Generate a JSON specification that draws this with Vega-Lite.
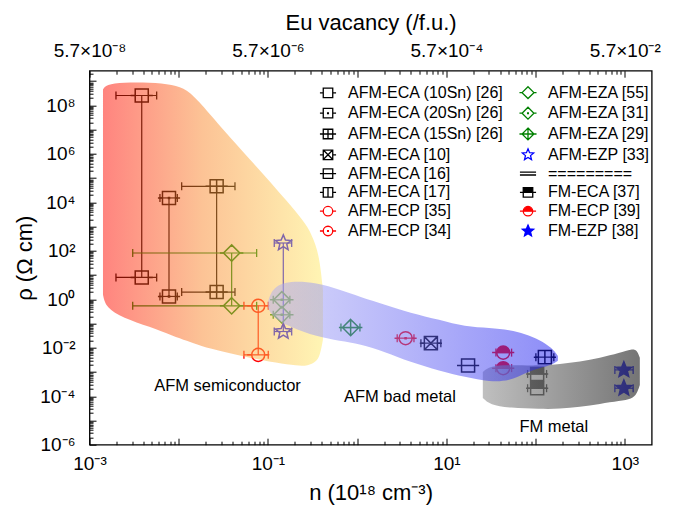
{
  "$schema": "https://vega.github.io/schema/vega-lite/v6.json",
  "width": 562.2,
  "height": 374,
  "autosize": {"type": "none"},
  "padding": {"left": 89.5, "top": 70.7, "right": 38.3, "bottom": 67.3},
  "background": "white",
  "config": {
    "font": "Liberation Sans",
    "view": {"stroke": "black", "strokeWidth": 1.3},
    "axis": {"grid": false, "domain": false, "tickColor": "black", "tickWidth": 1, "labelColor": "black", "titleColor": "black", "labelFont": "Liberation Sans", "titleFont": "Liberation Sans", "titleFontWeight": "normal", "labelFlush": false, "labelOverlap": false, "labelBound": false, "zindex": 1}
  },
  "datasets": {
    "points": [
      {"series": "AFM-ECA (10Sn) [26]", "n": 0.00385, "rho": 2.56e8, "lo": 0.00198, "hi": 0.00566},
      {"series": "AFM-ECA (10Sn) [26]", "n": 0.00385, "rho": 7.96, "lo": 0.00198, "hi": 0.00566},
      {"series": "AFM-ECA (20Sn) [26]", "n": 0.00778, "rho": 1.52e4, "lo": 0.00616, "hi": 0.00964},
      {"series": "AFM-ECA (20Sn) [26]", "n": 0.00778, "rho": 1.31, "lo": 0.00616, "hi": 0.00964},
      {"series": "AFM-ECA (15Sn) [26]", "n": 0.0266, "rho": 4.58e4, "lo": 0.01079, "hi": 0.0427},
      {"series": "AFM-ECA (15Sn) [26]", "n": 0.0266, "rho": 1.99, "lo": 0.01079, "hi": 0.0427},
      {"series": "AFM-EZA [55]", "n": 0.0392, "rho": 81.1, "lo": 0.00305, "hi": 0.0747},
      {"series": "AFM-EZA [55]", "n": 0.0392, "rho": 0.538, "lo": 0.00305, "hi": 0.0747},
      {"series": "AFM-ECP [35]", "n": 0.0778, "rho": 0.538, "lo": 0.0538, "hi": 0.1008},
      {"series": "AFM-ECP [35]", "n": 0.0778, "rho": 0.00509, "lo": 0.0538, "hi": 0.1008},
      {"series": "AFM-EZP [33]", "n": 0.1486, "rho": 210, "lo": 0.1177, "hi": 0.1845},
      {"series": "AFM-EZP [33]", "n": 0.1486, "rho": 0.0467, "lo": 0.1177, "hi": 0.1845},
      {"series": "AFM-EZA [31]", "n": 0.143, "rho": 0.953, "lo": 0.1146, "hi": 0.176},
      {"series": "AFM-EZA [31]", "n": 0.143, "rho": 0.229, "lo": 0.1146, "hi": 0.176},
      {"series": "AFM-EZA [29]", "n": 0.845, "rho": 0.068, "lo": 0.658, "hi": 1.074},
      {"series": "AFM-ECP [34]", "n": 3.49, "rho": 0.0249, "lo": 2.81, "hi": 4.33},
      {"series": "AFM-ECA [10]", "n": 6.7, "rho": 0.0155, "lo": 5.18, "hi": 8.67},
      {"series": "AFM-ECA [16]", "n": 17.5, "rho": 0.00184, "lo": null, "hi": null},
      {"series": "FM-ECP [39]", "n": 43.3, "rho": 0.0063, "lo": 35.9, "hi": 53.8},
      {"series": "FM-ECP [39]", "n": 43.3, "rho": 0.00144, "lo": 35.9, "hi": 53.8},
      {"series": "AFM-ECA [17]", "n": 127, "rho": 0.0041, "lo": 100.7, "hi": 160},
      {"series": "FM-ECA [37]", "n": 104, "rho": 0.00083, "lo": 81.3, "hi": 132.7},
      {"series": "FM-ECA [37]", "n": 104, "rho": 0.000214, "lo": 81.3, "hi": 132.7},
      {"series": "FM-EZP [38]", "n": 975, "rho": 0.00122, "lo": 773, "hi": 1239},
      {"series": "FM-EZP [38]", "n": 975, "rho": 0.000214, "lo": 773, "hi": 1239}
    ],
    "warm": [
      {"n": 0.001416, "top": 4.54e8, "bottom": 1.53},
      {"n": 0.001531, "top": 7.31e8, "bottom": 0.446},
      {"n": 0.002373, "top": 8.83e8, "bottom": 0.172},
      {"n": 0.004762, "top": 8.83e8, "bottom": 0.0731},
      {"n": 0.008622, "top": 7.31e8, "bottom": 0.031},
      {"n": 0.01237, "top": 4.54e8, "bottom": 0.0193},
      {"n": 0.0173, "top": 1.32e8, "bottom": 0.012},
      {"n": 0.03131, "top": 1.01e7, "bottom": 0.00678},
      {"n": 0.06285, "top": 5.81e5, "bottom": 0.00383},
      {"n": 0.1261, "top": 3.35e4, "bottom": 0.00238},
      {"n": 0.2113, "top": 3750, "bottom": 0.00179},
      {"n": 0.2806, "top": 991, "bottom": 0.00179},
      {"n": 0.3449, "top": 179, "bottom": 0.00261},
      {"n": 0.3825, "top": 35.5, "bottom": 0.00462},
      {"n": 0.4132, "top": 2.47, "bottom": 0.0212}
    ],
    "band": [
      {"n": 0.1, "top": 0.789, "bottom": 0.446},
      {"n": 0.1138, "top": 3.29, "bottom": 0.172},
      {"n": 0.1764, "top": 5.81, "bottom": 0.0731},
      {"n": 0.354, "top": 4.81, "bottom": 0.0282},
      {"n": 0.641, "top": 2.47, "bottom": 0.0193},
      {"n": 1.074, "top": 1.27, "bottom": 0.01449},
      {"n": 2.046, "top": 0.593, "bottom": 0.00678},
      {"n": 3.9, "top": 0.2767, "bottom": 0.00261},
      {"n": 8.45, "top": 0.1422, "bottom": 0.00111},
      {"n": 16.1, "top": 0.0731, "bottom": 0.000628},
      {"n": 30.7, "top": 0.0664, "bottom": 0.00039},
      {"n": 51.5, "top": 0.055, "bottom": 0.000428},
      {"n": 75.8, "top": 0.0375, "bottom": 0.000918},
      {"n": 111.6, "top": 0.0212, "bottom": 0.001476},
      {"n": 152, "top": 0.00991, "bottom": 0.00196},
      {"n": 177.6, "top": 0.00462, "bottom": 0.00288}
    ],
    "fm": [
      {"n": 25.6, "top": 0.00101, "bottom": 8.51e-5},
      {"n": 30.7, "top": 0.00179, "bottom": 4.37e-5},
      {"n": 51.5, "top": 0.00196, "bottom": 3.29e-5},
      {"n": 111.6, "top": 0.00179, "bottom": 2.99e-5},
      {"n": 187, "top": 0.00216, "bottom": 2.99e-5},
      {"n": 313, "top": 0.00261, "bottom": 3.61e-5},
      {"n": 525, "top": 0.00383, "bottom": 4.81e-5},
      {"n": 879, "top": 0.00615, "bottom": 6.4e-5},
      {"n": 1198, "top": 0.00902, "bottom": 7.72e-5},
      {"n": 1363, "top": 0.00818, "bottom": 1.24e-4},
      {"n": 1472, "top": 0.00383, "bottom": 2.93e-4}
    ],
    "regions": [
      {"label": "AFM semiconductor", "n": 0.0352, "rho": 2.67e-4},
      {"label": "AFM bad metal", "n": 3.01, "rho": 9.35e-5},
      {"label": "FM metal", "n": 160, "rho": 5.38e-6}
    ]
  },
  "resolve": {"axis": {"x": "independent"}},
  "layer": [
    {
      "data": {"name": "points"},
      "transform": [
        {"filter": {"field": "series", "oneOf": ["AFM-ECA (10Sn) [26]", "AFM-ECA (20Sn) [26]", "AFM-ECA (15Sn) [26]", "AFM-EZA [55]", "AFM-ECP [35]", "AFM-EZP [33]"]}},
        {"aggregate": [{"op": "min", "field": "rho", "as": "bottom"}, {"op": "max", "field": "rho", "as": "top"}], "groupby": ["series", "n"]}
      ],
      "mark": {"type": "rule", "strokeWidth": 1.2},
      "encoding": {
        "x": {
          "field": "n", "type": "quantitative",
          "scale": {"type": "log", "domain": [0.001, 2000], "nice": false},
          "axis": {
            "orient": "bottom",
            "values": [0.001,0.002,0.003,0.004,0.005,0.006,0.007,0.008,0.009,0.01,0.02,0.03,0.04,0.05,0.06,0.07,0.08,0.09,0.1,0.2,0.3,0.4,0.5,0.6,0.7,0.8,0.9,1,2,3,4,5,6,7,8,9,10,20,30,40,50,60,70,80,90,100,200,300,400,500,600,700,800,900,1000],
            "labelExpr": "datum.value == 0.001 ? '10⁻³' : datum.value == 0.1 ? '10⁻¹' : datum.value == 10 ? '10¹' : datum.value == 1000 ? '10³' : ''",
            "tickSize": {"condition": {"test": "abs(log(datum.value)/LN10 - round(log(datum.value)/LN10)) < 0.01", "value": -6.5}, "value": -3.5},
            "labelPadding": 16,
            "labelFontSize": 19,
            "title": "n (10¹⁸ cm⁻³)",
            "titleFontSize": 22,
            "titleY": 55,
            "titleBaseline": "alphabetic"
          }
        },
        "y": {
          "field": "top", "type": "quantitative",
          "scale": {"type": "log", "domain": [1e-6, 2.7e9], "nice": false},
          "axis": {
            "orient": "left",
            "values": [1e-6,2e-6,3e-6,4e-6,5e-6,6e-6,7e-6,8e-6,9e-6,1e-5,2e-5,3e-5,4e-5,5e-5,6e-5,7e-5,8e-5,9e-5,1e-4,2e-4,3e-4,4e-4,5e-4,6e-4,7e-4,8e-4,9e-4,1e-3,2e-3,3e-3,4e-3,5e-3,6e-3,7e-3,8e-3,9e-3,1e-2,2e-2,3e-2,4e-2,5e-2,6e-2,7e-2,8e-2,9e-2,0.1,0.2,0.3,0.4,0.5,0.6,0.7,0.8,0.9,1,2,3,4,5,6,7,8,9,10,20,30,40,50,60,70,80,90,100,200,300,400,500,600,700,800,900,1e3,2e3,3e3,4e3,5e3,6e3,7e3,8e3,9e3,1e4,2e4,3e4,4e4,5e4,6e4,7e4,8e4,9e4,1e5,2e5,3e5,4e5,5e5,6e5,7e5,8e5,9e5,1e6,2e6,3e6,4e6,5e6,6e6,7e6,8e6,9e6,1e7,2e7,3e7,4e7,5e7,6e7,7e7,8e7,9e7,1e8,2e8,3e8,4e8,5e8,6e8,7e8,8e8,9e8,1e9,2e9],
            "labelExpr": "datum.value == 100000000 ? '10⁸' : datum.value == 1000000 ? '10⁶' : datum.value == 10000 ? '10⁴' : datum.value == 100 ? '10²' : datum.value == 1 ? '10⁰' : datum.value == 0.01 ? '10⁻²' : datum.value == 0.0001 ? '10⁻⁴' : datum.value == 0.000001 ? '10⁻⁶' : ''",
            "tickSize": {"condition": {"test": "abs(log(datum.value)/LN10 - round(log(datum.value)/LN10)) < 0.01", "value": -6.5}, "value": -3.5},
            "labelPadding": 21,
            "labelFontSize": 19,
            "title": "ρ (Ω cm)",
            "titleFontSize": 22,
            "titleX": -65,
            "titleBaseline": "middle"
          }
        },
        "y2": {"field": "bottom"},
        "color": {
          "field": "series", "type": "nominal", "legend": null,
          "scale": {
            "domain": ["AFM-ECA (10Sn) [26]", "AFM-ECA (20Sn) [26]", "AFM-ECA (15Sn) [26]", "AFM-ECA [10]", "AFM-ECA [16]", "AFM-ECA [17]", "AFM-ECP [35]", "AFM-ECP [34]", "AFM-EZA [55]", "AFM-EZA [31]", "AFM-EZA [29]", "AFM-EZP [33]", "FM-ECA [37]", "FM-ECP [39]", "FM-EZP [38]"],
            "range": ["#000000", "#000000", "#000000", "#000000", "#000000", "#000000", "#ff0000", "#ff0000", "#008000", "#008000", "#008000", "#0000ff", "#000000", "#ff0000", "#0000ff"]
          }
        }
      }
    },
    {
      "data": {"name": "points"},
      "mark": {"type": "rule", "strokeWidth": 1.2},
      "encoding": {
        "x": {
          "field": "lo", "type": "quantitative",
          "axis": {
            "orient": "top",
            "values": [0.001,0.002,0.003,0.004,0.005,0.006,0.007,0.008,0.009,0.01,0.02,0.03,0.04,0.05,0.06,0.07,0.08,0.09,0.1,0.2,0.3,0.4,0.5,0.6,0.7,0.8,0.9,1,2,3,4,5,6,7,8,9,10,20,30,40,50,60,70,80,90,100,200,300,400,500,600,700,800,900,1000],
            "labelExpr": "datum.value == 0.001 ? '5.7×10⁻⁸' : datum.value == 0.1 ? '5.7×10⁻⁶' : datum.value == 10 ? '5.7×10⁻⁴' : datum.value == 1000 ? '5.7×10⁻²' : ''",
            "tickSize": {"condition": {"test": "abs(log(datum.value)/LN10 - round(log(datum.value)/LN10)) < 0.01", "value": -6.5}, "value": -3.5},
            "labelPadding": 16.5,
            "labelFontSize": 19,
            "title": "Eu vacancy (/f.u.)",
            "titleFontSize": 22,
            "titleY": -41,
            "titleBaseline": "alphabetic"
          }
        },
        "x2": {"field": "hi"},
        "y": {"field": "rho", "type": "quantitative"},
        "color": {"field": "series", "type": "nominal", "legend": null}
      }
    },
    {
      "data": {"name": "points"},
      "mark": {"type": "point", "shape": "M0,-1V1", "size": 64, "strokeWidth": 1.3, "opacity": 1},
      "encoding": {
        "x": {"field": "lo", "type": "quantitative", "axis": null},
        "y": {"field": "rho", "type": "quantitative"},
        "color": {"field": "series", "type": "nominal", "legend": null}
      }
    },
    {
      "data": {"name": "points"},
      "mark": {"type": "point", "shape": "M0,-1V1", "size": 64, "strokeWidth": 1.3, "opacity": 1},
      "encoding": {
        "x": {"field": "hi", "type": "quantitative", "axis": null},
        "y": {"field": "rho", "type": "quantitative"},
        "color": {"field": "series", "type": "nominal", "legend": null}
      }
    },
    {
      "data": {"name": "points"},
      "mark": {"type": "point", "size": 170, "strokeWidth": 1.5, "opacity": 1},
      "encoding": {
        "x": {"field": "n", "type": "quantitative", "axis": null},
        "y": {"field": "rho", "type": "quantitative"},
        "shape": {
          "field": "series", "type": "nominal",
          "scale": {
            "domain": ["AFM-ECA (10Sn) [26]", "AFM-ECA (20Sn) [26]", "AFM-ECA (15Sn) [26]", "AFM-ECA [10]", "AFM-ECA [16]", "AFM-ECA [17]", "AFM-ECP [35]", "AFM-ECP [34]", "AFM-EZA [55]", "AFM-EZA [31]", "AFM-EZA [29]", "AFM-EZP [33]", "=========", "FM-ECA [37]", "FM-ECP [39]", "FM-EZP [38]"],
            "range": [
              "M-1,-1H1V1H-1Z M-1.7,0H-1M1,0H1.7",
              "M-1,-1H1V1H-1Z M-0.08,-0.08H0.08V0.08H-0.08Z M-1.7,0H-1M1,0H1.7",
              "M-1,-1H1V1H-1Z M-1,0H1M0,-1V1 M-1.7,0H-1M1,0H1.7",
              "M-1,-1H1V1H-1Z M-1,-1L1,1M-1,1L1,-1 M-1.7,0H-1M1,0H1.7",
              "M-1,-1H1V1H-1Z M-1,0H1 M-1.7,0H-1M1,0H1.7",
              "M-1,-1H1V1H-1Z M0,-1V1 M-1.7,0H-1M1,0H1.7",
              "M-1,0A1,1 0 1 1 1,0A1,1 0 1 1 -1,0Z M-1.7,0H-1M1,0H1.7",
              "M-1,0A1,1 0 1 1 1,0A1,1 0 1 1 -1,0Z M-0.08,-0.08H0.08V0.08H-0.08Z M-1.7,0H-1M1,0H1.7",
              "M0,-1.25L1.25,0L0,1.25L-1.25,0Z M-1.8,0H-1.25M1.25,0H1.8",
              "M0,-1.25L1.25,0L0,1.25L-1.25,0Z M-0.08,-0.08H0.08V0.08H-0.08Z M-1.8,0H-1.25M1.25,0H1.8",
              "M0,-1.25L1.25,0L0,1.25L-1.25,0Z M-1.25,0H1.25M0,-1.25V1.25 M-1.8,0H-1.25M1.25,0H1.8",
              "M0,-1.25L0.33,-0.455L1.19,-0.386L0.535,0.174L0.735,1.011L0,0.5625L-0.735,1.011L-0.535,0.174L-1.19,-0.386L-0.33,-0.455Z",
              "M-1.7,-0.3H1.7M-1.7,0.3H1.7",
              "M-1,-1H1V0H-1Z M-1,0V1H1V0V1H-1V0 M-1.7,0H-1M1,0H1.7",
              "M-1,0A1,1 0 0 1 1,0Z M-1,0A1,1 0 0 0 1,0A1,1 0 0 1 -1,0 M-1.7,0H-1M1,0H1.7",
              "M0,-1.25L0.33,-0.455L1.19,-0.386L0.535,0.174L0.735,1.011L0,0.5625L-0.735,1.011L-0.535,0.174L-1.19,-0.386L-0.33,-0.455Z"
            ]
          },
          "legend": {"title": null, "orient": "none", "legendX": 230.5, "legendY": 13.7, "columns": 2, "columnPadding": 12, "rowPadding": 2.8, "labelFontSize": 16, "labelFont": "Liberation Sans", "labelColor": "black", "labelLimit": 400, "labelOffset": 12, "symbolSize": 90, "symbolStrokeWidth": 1.3, "padding": 0}
        },
        "stroke": {
          "field": "series", "type": "nominal",
          "scale": {
            "domain": ["AFM-ECA (10Sn) [26]", "AFM-ECA (20Sn) [26]", "AFM-ECA (15Sn) [26]", "AFM-ECA [10]", "AFM-ECA [16]", "AFM-ECA [17]", "AFM-ECP [35]", "AFM-ECP [34]", "AFM-EZA [55]", "AFM-EZA [31]", "AFM-EZA [29]", "AFM-EZP [33]", "=========", "FM-ECA [37]", "FM-ECP [39]", "FM-EZP [38]"],
            "range": ["#000000", "#000000", "#000000", "#000000", "#000000", "#000000", "#ff0000", "#ff0000", "#008000", "#008000", "#008000", "#0000ff", "#000000", "#000000", "#ff0000", "#0000ff"]
          },
          "legend": {"title": null, "orient": "none", "legendX": 230.5, "legendY": 13.7, "columns": 2, "columnPadding": 12, "rowPadding": 2.8, "labelFontSize": 16, "labelFont": "Liberation Sans", "labelColor": "black", "labelLimit": 400, "labelOffset": 12, "symbolSize": 90, "symbolStrokeWidth": 1.3, "padding": 0}
        },
        "fill": {
          "field": "series", "type": "nominal",
          "scale": {
            "domain": ["AFM-ECA (10Sn) [26]", "AFM-ECA (20Sn) [26]", "AFM-ECA (15Sn) [26]", "AFM-ECA [10]", "AFM-ECA [16]", "AFM-ECA [17]", "AFM-ECP [35]", "AFM-ECP [34]", "AFM-EZA [55]", "AFM-EZA [31]", "AFM-EZA [29]", "AFM-EZP [33]", "=========", "FM-ECA [37]", "FM-ECP [39]", "FM-EZP [38]"],
            "range": ["transparent", "transparent", "transparent", "transparent", "transparent", "transparent", "transparent", "transparent", "transparent", "transparent", "transparent", "transparent", "transparent", "#000000", "#ff0000", "#0000ff"]
          },
          "legend": {"title": null, "orient": "none", "legendX": 230.5, "legendY": 13.7, "columns": 2, "columnPadding": 12, "rowPadding": 2.8, "labelFontSize": 16, "labelFont": "Liberation Sans", "labelColor": "black", "labelLimit": 400, "labelOffset": 12, "symbolSize": 90, "symbolStrokeWidth": 1.3, "padding": 0}
        }
      }
    },
    {
      "data": {"name": "warm"},
      "mark": {
        "type": "area", "interpolate": "basis", "fillOpacity": 0.5,
        "fill": {"gradient": "linear", "x1": 0, "y1": 0, "x2": 1, "y2": 0, "stops": [{"offset": 0, "color": "#ff0a00"}, {"offset": 0.45, "color": "#f9872d"}, {"offset": 1, "color": "#ffeb69"}]}
      },
      "encoding": {
        "x": {"field": "n", "type": "quantitative", "axis": null},
        "y": {"field": "top", "type": "quantitative"},
        "y2": {"field": "bottom"}
      }
    },
    {
      "data": {"name": "fm"},
      "mark": {
        "type": "area", "interpolate": "basis", "fillOpacity": 0.7,
        "fill": {"gradient": "linear", "x1": 0, "y1": 0, "x2": 1, "y2": 0, "stops": [{"offset": 0, "color": "#a4a4a4"}, {"offset": 1, "color": "#3a3a3a"}]}
      },
      "encoding": {
        "x": {"field": "n", "type": "quantitative", "axis": null},
        "y": {"field": "top", "type": "quantitative"},
        "y2": {"field": "bottom"}
      }
    },
    {
      "data": {"name": "band"},
      "mark": {
        "type": "area", "interpolate": "basis", "fillOpacity": 0.5,
        "fill": {"gradient": "linear", "x1": 0, "y1": 0, "x2": 1, "y2": 0, "stops": [{"offset": 0, "color": "#b0b0f6"}, {"offset": 0.45, "color": "#7070f4"}, {"offset": 1, "color": "#1c1cf0"}]}
      },
      "encoding": {
        "x": {"field": "n", "type": "quantitative", "axis": null},
        "y": {"field": "top", "type": "quantitative"},
        "y2": {"field": "bottom"}
      }
    },
    {
      "data": {"name": "regions"},
      "mark": {"type": "text", "fontSize": 16.5, "font": "Liberation Sans", "color": "black", "align": "center", "baseline": "middle"},
      "encoding": {
        "x": {"field": "n", "type": "quantitative", "axis": null},
        "y": {"field": "rho", "type": "quantitative"},
        "text": {"field": "label"}
      }
    }
  ]
}
